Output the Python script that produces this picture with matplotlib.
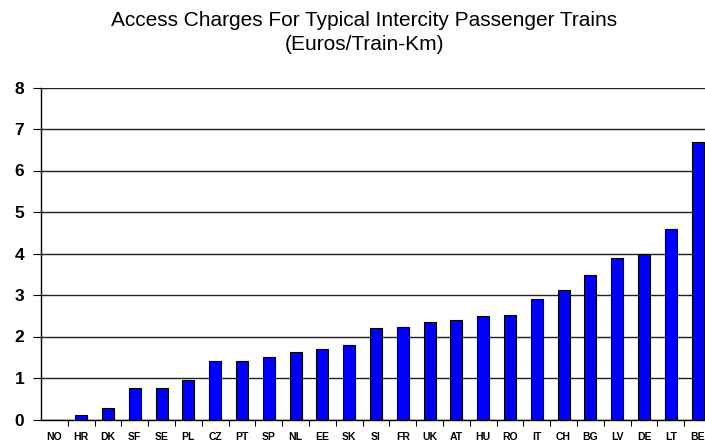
import matplotlib
matplotlib.use("Agg")
import matplotlib.pyplot as plt
import numpy as np

# access charges, euros per train-km
countries = ['NO', 'HR', 'DK', 'SF', 'SE', 'PL', 'CZ', 'PT', 'SP', 'NL', 'EE', 'SK', 'SI',
             'FR', 'UK', 'AT', 'HU', 'RO', 'IT', 'CH', 'BG', 'LV', 'DE', 'LT', 'BE']
charges = [0.0, 0.1, 0.27, 0.75, 0.77, 0.95, 1.41, 1.41, 1.5, 1.63, 1.71, 1.8, 2.2,
           2.22, 2.36, 2.4, 2.5, 2.53, 2.91, 3.11, 3.49, 3.88, 4.0, 4.59, 6.69]

plt.rcParams['font.family'] = ['Liberation Sans', 'DejaVu Sans']

fig = plt.figure(figsize=(7.05, 4.46), dpi=100)
ax = fig.add_axes([41/705, 26.5/446, 670/705, 332/446])

x = np.arange(len(countries))
ax.bar(x, charges, 0.45, color='#0000ff', edgecolor='black', linewidth=0.8, zorder=3)

ax.set_ylim(0, 8)
ax.set_xlim(-0.5, len(countries) - 0.5)
ax.set_yticks(range(0, 9))
ax.set_yticklabels([str(v) for v in range(0, 9)], fontsize=12.5, fontweight='bold')
ax.set_xticks(x)
ax.set_xticklabels(countries, fontsize=7.5, fontweight='bold')
ax.set_xticks(np.arange(len(countries)) + 0.5, minor=True)
ax.tick_params(axis='x', which='major', length=0, pad=9)
ax.tick_params(axis='x', which='minor', length=4, width=0.8, direction='out')
ax.tick_params(axis='y', length=6, width=0.8, pad=6)

ax.yaxis.grid(True, color='#222222', linewidth=1.0, zorder=0)
ax.spines['top'].set_visible(False)
ax.spines['right'].set_visible(False)
ax.spines['left'].set_linewidth(1.0)
ax.spines['bottom'].set_linewidth(1.0)

fig.text(364/705, 1 - 26/446, 'Access Charges For Typical Intercity Passenger Trains',
         ha='center', va='baseline', fontsize=15)
fig.text(364/705, 1 - 50/446, '(Euros/Train-Km)', ha='center', va='baseline', fontsize=15)

fig.savefig('out.png', dpi=100)
